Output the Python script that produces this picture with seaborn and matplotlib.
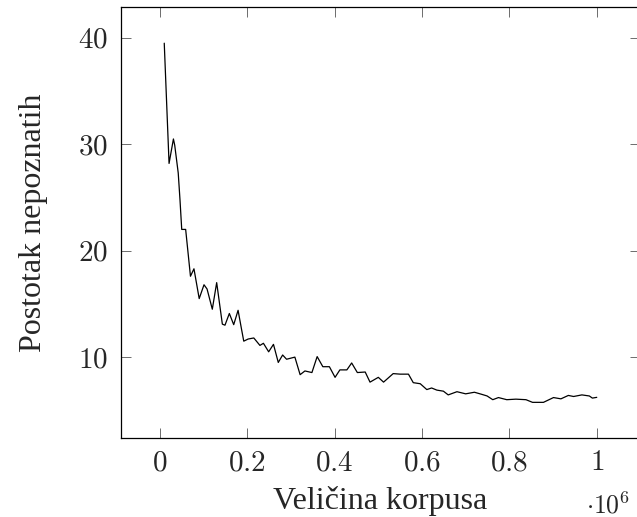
import matplotlib
matplotlib.use("Agg")
import matplotlib.pyplot as plt
import seaborn as sns
import pandas as pd

# corpus size (in millions of tokens) vs. percentage of unknown words
corpus_size = [0.010, 0.021, 0.031, 0.034, 0.042, 0.046, 0.050, 0.059, 0.064, 0.070,
               0.078, 0.090, 0.101, 0.108, 0.120, 0.130, 0.143, 0.149, 0.159, 0.169,
               0.179, 0.187, 0.192, 0.202, 0.215, 0.229, 0.237, 0.249, 0.260, 0.271,
               0.281, 0.290, 0.309, 0.321, 0.332, 0.348, 0.360, 0.373, 0.388, 0.401,
               0.412, 0.428, 0.439, 0.452, 0.470, 0.481, 0.500, 0.512, 0.534, 0.550,
               0.569, 0.580, 0.596, 0.611, 0.622, 0.634, 0.649, 0.660, 0.680, 0.700,
               0.720, 0.737, 0.749, 0.762, 0.775, 0.794, 0.815, 0.838, 0.853, 0.878,
               0.901, 0.918, 0.935, 0.947, 0.966, 0.983, 0.990, 1.000]
unknown_pct = [39.5, 28.2, 30.5, 29.9, 27.3, 24.8, 22.0, 22.0, 20.0, 17.6,
               18.3, 15.5, 16.8, 16.4, 14.5, 17.0, 13.1, 13.0, 14.1, 13.05,
               14.4, 12.6, 11.5, 11.7, 11.8, 11.1, 11.3, 10.5, 11.2, 9.5,
               10.2, 9.8, 10.0, 8.35, 8.7, 8.55, 10.05, 9.1, 9.1, 8.1,
               8.8, 8.8, 9.45, 8.55, 8.6, 7.65, 8.1, 7.65, 8.45, 8.4,
               8.4, 7.6, 7.5, 6.95, 7.1, 6.9, 6.8, 6.45, 6.75, 6.55,
               6.7, 6.5, 6.35, 6.0, 6.2, 6.0, 6.05, 6.0, 5.75, 5.75,
               6.2, 6.08, 6.4, 6.3, 6.45, 6.35, 6.15, 6.22]

x_ticks = [0, 0.2, 0.4, 0.6, 0.8, 1]
x_tick_labels = ["0", "0.2", "0.4", "0.6", "0.8", "1"]
y_ticks = [10, 20, 30, 40]
y_tick_labels = ["10", "20", "30", "40"]

sns.set_style("ticks")
plt.rcParams["font.family"] = ["Liberation Serif", "DejaVu Serif"]
plt.rcParams["mathtext.fontset"] = "cm"

df = pd.DataFrame({"size": corpus_size, "pct": unknown_pct})

fig = plt.figure(figsize=(6.37, 5.17), dpi=100)
ax = fig.add_axes([121 / 637, 79 / 517, 519 / 637, 431 / 517])

sns.lineplot(data=df, x="size", y="pct", color="black", linewidth=0.9, ax=ax)

ax.set_xlim(-0.089, 1.099)
ax.set_ylim(2.4, 42.9)
ax.set_xticks(x_ticks)
ax.set_xticklabels([f"${t}$" for t in x_tick_labels])
ax.set_yticks(y_ticks)
ax.set_yticklabels([f"${t}$" for t in y_tick_labels])

ax.tick_params(direction="in", length=7.5, width=0.6, color="#555555",
               labelsize=21, top=True, right=True, pad=9)
for sp in ax.spines.values():
    sp.set_visible(True)
    sp.set_linewidth(0.9)
    sp.set_color("black")

ax.set_xlabel("Veličina korpusa", fontsize=23, labelpad=7)
ax.set_ylabel("Postotak nepoznatih", fontsize=23, labelpad=22)

# pgfplots-style scale marker at the bottom right
fig.text(586 / 637, 1 - 513 / 517, r"$\cdot 10^6$", fontsize=18.5,
         ha="left", va="baseline")

fig.savefig("out.png", dpi=100)
